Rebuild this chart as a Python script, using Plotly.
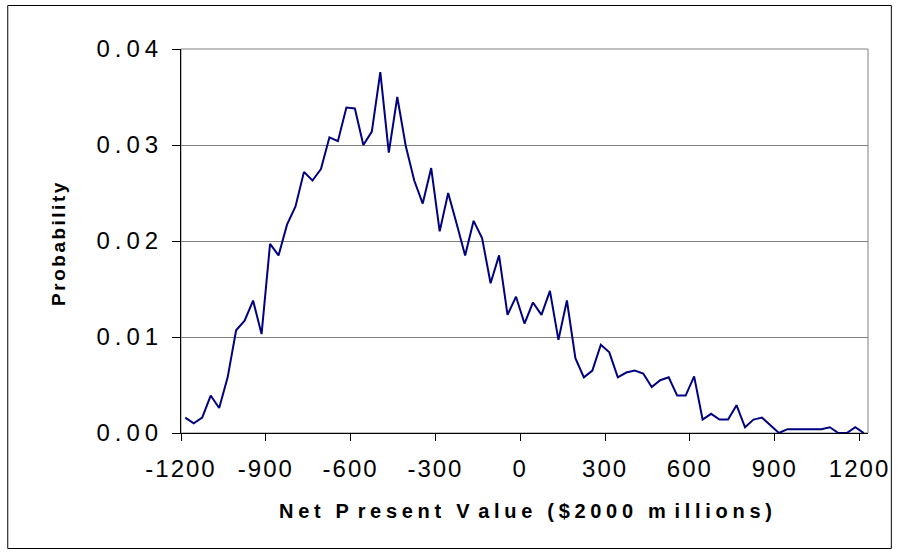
import plotly.graph_objects as go

# ---- data ----
npv = [-1185, -1155, -1125, -1095, -1065, -1035, -1005, -975, -945, -915,
       -885, -855, -825, -795, -765, -735, -705, -675, -645, -615,
       -585, -555, -525, -495, -465, -435, -405, -375, -345, -315,
       -285, -255, -225, -195, -165, -135, -105, -75, -45, -15,
       15, 45, 75, 105, 135, 165, 195, 225, 255, 285,
       315, 345, 375, 405, 435, 465, 495, 525, 555, 585,
       615, 645, 675, 705, 735, 765, 795, 825, 855, 885,
       915, 945, 975, 1005, 1035, 1065, 1095, 1125, 1155, 1185,
       1215]
probability = [0.0016, 0.0010, 0.0016, 0.0039, 0.0026, 0.0058, 0.0107, 0.0117, 0.0138, 0.0103,
               0.0197, 0.0185, 0.0217, 0.0236, 0.0272, 0.0263, 0.0275, 0.0308, 0.0304, 0.0339,
               0.0338, 0.0300, 0.0314, 0.0376, 0.0292, 0.0350, 0.0299, 0.0263, 0.0239, 0.0276,
               0.0210, 0.0250, 0.0218, 0.0185, 0.0221, 0.0203, 0.0156, 0.0185, 0.0123, 0.0142,
               0.0114, 0.0136, 0.0123, 0.0148, 0.0097, 0.0138, 0.0078, 0.0058, 0.0065, 0.0092,
               0.0084, 0.0058, 0.0063, 0.0065, 0.0062, 0.0048, 0.0055, 0.0058, 0.0039, 0.0039,
               0.0059, 0.0014, 0.0020, 0.0014, 0.0014, 0.0029, 0.0006, 0.0014, 0.0016, 0.0008,
               0.0000, 0.0004, 0.0004, 0.0004, 0.0004, 0.0004, 0.0006, 0.0000, 0.0000, 0.0006,
               0.0000]
x_tick_vals = [-1200, -900, -600, -300, 0, 300, 600, 900, 1200]
x_tick_labels = ["-1200", "-900", "-600", "-300", "0", "300", "600", "900", "1200"]
y_tick_vals = [0.0, 0.01, 0.02, 0.03, 0.04]
y_tick_labels = ["0.00", "0.01", "0.02", "0.03", "0.04"]
x_title_words = ["Net", "Present", "Value", "($2000", "millions)"]
y_title = "Probability"

FONT = "Liberation Sans, Arial, sans-serif"


def spaced(s, px):
    return '<span style="letter-spacing:%.1fpx">%s</span>' % (px, s)


# x title: letter-spaced, with the slightly wider gaps after P, V and m seen in the original
def x_title_markup(words, ls, extra):
    out = []
    for w in words:
        if w[0] in "PVm":
            out.append(spaced(w[0], ls + extra) + spaced(w[1:], ls))
        else:
            out.append(spaced(w, ls))
    return spaced(" ", ls).join(out)


fig = go.Figure()
fig.add_trace(go.Scatter(
    x=npv, y=probability, mode="lines",
    line=dict(color="#000080", width=2),
    showlegend=False, hoverinfo="x+y",
))

W, H = 902, 554
L, R, T, B = 181, 29, 49, 121
pw, ph = W - L - R, H - T - B


def px_x(p):
    return (p - L) / pw


def px_y(p):
    return (H - B - p) / ph


fig.update_layout(
    width=W, height=H,
    margin=dict(l=L, r=R, t=T, b=B, pad=0),
    paper_bgcolor="white", plot_bgcolor="white",
    font=dict(family=FONT, color="black"),
    xaxis=dict(
        range=[-1200, 1230], tickmode="array", tickvals=x_tick_vals,
        ticktext=[spaced(t, 2) for t in x_tick_labels],
        ticks="outside", ticklen=7, tickcolor="black", tickwidth=1,
        showline=True, linecolor="black", linewidth=1,
        showgrid=False, zeroline=False,
        tickfont=dict(size=24, family=FONT, color="black"),
        ticklabelstandoff=7, ticklabeloverflow="allow",
    ),
    yaxis=dict(
        range=[0, 0.04], tickmode="array", tickvals=y_tick_vals,
        ticktext=[spaced(t, 5) for t in y_tick_labels],
        ticks="outside", ticklen=8, tickcolor="black", tickwidth=1,
        showline=True, linecolor="black", linewidth=1,
        showgrid=True, gridcolor="#808080", gridwidth=1,
        zeroline=False,
        tickfont=dict(size=24, family=FONT, color="black"),
        ticklabelstandoff=4, ticklabeloverflow="allow",
    ),
    shapes=[
        # plot-area border (grey)
        dict(type="rect", xref="paper", yref="paper", x0=0, x1=1, y0=0, y1=1,
             line=dict(color="#808080", width=1), layer="below"),
        # outer chart border
        dict(type="rect", xref="paper", yref="paper",
             x0=px_x(6.5), x1=px_x(896.5), y0=px_y(548.5), y1=px_y(5.5),
             line=dict(color="black", width=1), layer="below"),
    ],
    annotations=[
        dict(text="<b>" + spaced(y_title, 2.5) + "</b>", xref="paper", yref="paper",
             x=px_x(58), y=px_y(243), textangle=-90, showarrow=False,
             xanchor="center", yanchor="middle",
             font=dict(size=19, family=FONT, color="black")),
        dict(text="<b>" + x_title_markup(x_title_words, 4.7, 4) + "</b>",
             xref="paper", yref="paper",
             x=px_x(531), y=px_y(511), showarrow=False,
             xanchor="center", yanchor="middle",
             font=dict(size=20, family=FONT, color="black")),
    ],
)

fig.write_html(
    "out.html",
    config={"displayModeBar": False},
    post_script="document.body.style.margin='0';document.body.style.overflow='hidden';",
)
